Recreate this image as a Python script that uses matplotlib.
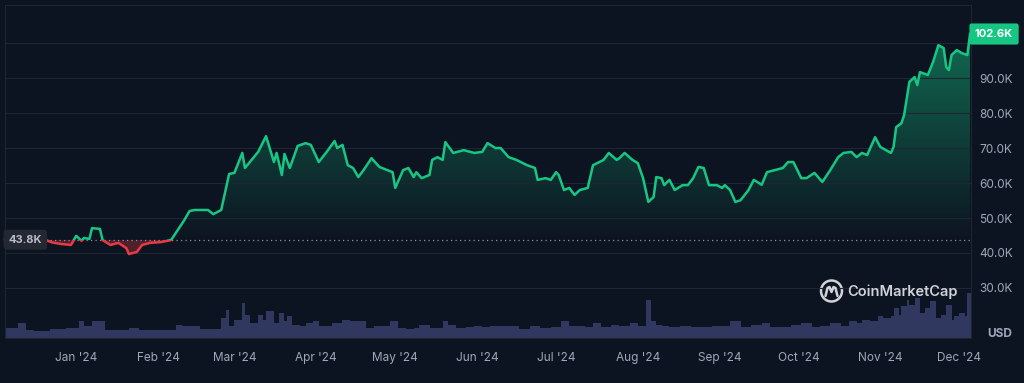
import numpy as np
import matplotlib.pyplot as plt
import matplotlib.dates as mdates
from matplotlib.patches import Rectangle, Ellipse
from matplotlib.colors import LinearSegmentedColormap
from matplotlib.transforms import blended_transform_factory

plt.rcParams['font.family'] = ['Inter', 'DejaVu Sans']

start = np.datetime64('2023-12-05')

# price (days since start, thousands of USD)
price_days = [0, 15, 18, 21, 25, 27, 29, 30, 32, 33,
              36, 37, 40, 43, 46, 47, 50, 52, 55, 59,
              63, 65, 68, 70, 72, 77, 79, 82, 85, 87,
              90, 91, 96, 99, 102, 103, 105, 106, 108, 111,
              114, 116, 119, 122, 125, 126, 128, 130, 132, 134,
              136, 139, 142, 145, 147, 148, 151, 153, 155, 156,
              158, 161, 162, 164, 166, 167, 170, 174, 178, 181,
              183, 186, 188, 191, 194, 198, 201, 202, 205, 207,
              209, 210, 212, 214, 216, 218, 221, 223, 227, 229,
              232, 233, 235, 238, 240, 242, 244, 246, 247, 249,
              250, 252, 254, 257, 259, 261, 263, 265, 267, 270,
              272, 273, 275, 277, 279, 282, 284, 287, 289, 292,
              295, 297, 299, 302, 304, 307, 310, 313, 316, 318,
              321, 323, 325, 327, 330, 332, 336, 337, 338, 340,
              341, 343, 345, 346, 347, 350, 352, 354, 356, 357,
              358, 359, 361, 363, 365, 366]
price_k = [43.8, 43.8, 43.0, 42.6, 42.3, 44.9, 43.5, 44.3, 44.0, 47.1,
           46.9, 43.7, 42.3, 42.9, 41.4, 39.7, 40.3, 42.3, 42.9, 43.1,
           43.7, 46.0, 49.4, 52.0, 52.3, 52.3, 51.1, 52.3, 62.6, 62.9,
           68.6, 64.3, 68.9, 73.4, 66.0, 68.6, 62.3, 68.3, 64.3, 70.6,
           71.4, 70.9, 66.0, 68.9, 72.0, 70.0, 70.9, 65.1, 64.3, 61.7,
           63.7, 67.1, 64.6, 63.7, 63.1, 58.6, 63.7, 64.3, 61.7, 63.1,
           61.4, 62.3, 66.6, 67.4, 66.6, 71.7, 68.6, 69.4, 68.6, 68.9,
           71.4, 70.0, 70.0, 67.4, 66.6, 65.1, 64.3, 60.9, 61.4, 60.9,
           63.1, 62.3, 58.0, 58.6, 56.6, 58.0, 58.6, 65.1, 66.6, 68.6,
           66.6, 67.1, 68.6, 66.6, 65.7, 61.4, 54.6, 56.0, 61.7, 61.4,
           59.4, 60.9, 58.0, 59.4, 59.4, 61.4, 64.6, 64.3, 59.4, 59.4,
           58.6, 59.4, 58.0, 54.6, 55.1, 58.0, 60.9, 59.5, 63.1, 63.7,
           64.3, 66.0, 66.0, 61.4, 61.4, 62.9, 60.3, 63.7, 67.4, 68.6,
           68.9, 67.4, 68.6, 68.0, 73.1, 70.3, 68.6, 70.3, 76.0, 77.1,
           79.4, 88.9, 90.3, 88.0, 91.7, 90.9, 94.6, 99.4, 98.6, 93.1,
           92.3, 96.6, 98.0, 97.1, 96.6, 102.6]

# volume (days since start, billions of USD)
vol_days = [0, 3, 5, 8, 11, 14, 17, 20, 23, 25,
            28, 30, 33, 35, 38, 41, 44, 47, 51, 55,
            59, 62, 65, 67, 70, 74, 77, 80, 82, 84,
            85, 87, 90, 91, 93, 96, 98, 99, 102, 104,
            106, 107, 109, 112, 114, 117, 119, 121, 124, 128,
            131, 134, 137, 140, 142, 146, 149, 152, 155, 157,
            161, 163, 166, 168, 171, 175, 178, 181, 184, 188,
            192, 195, 199, 203, 207, 211, 214, 216, 220, 223,
            226, 230, 233, 237, 240, 243, 245, 247, 249, 252,
            256, 260, 264, 268, 271, 275, 279, 283, 287, 290,
            294, 298, 302, 306, 309, 313, 317, 320, 323, 325,
            328, 331, 333, 336, 337, 339, 340, 342, 343, 345,
            347, 349, 351, 353, 355, 357, 359, 360, 362, 364,
            365]
vol_bn = [30, 30, 45, 24, 21, 21, 27, 27, 30, 30,
          51, 36, 51, 51, 24, 24, 24, 30, 24, 24,
          24, 24, 39, 36, 36, 27, 27, 27, 60, 84,
          36, 54, 105, 69, 45, 69, 54, 81, 45, 75,
          51, 66, 39, 36, 45, 51, 36, 36, 45, 54,
          51, 51, 30, 36, 36, 51, 30, 27, 30, 39,
          30, 30, 51, 39, 30, 33, 36, 33, 36, 36,
          36, 27, 36, 30, 33, 51, 36, 36, 33, 45,
          33, 39, 36, 45, 36, 114, 51, 39, 36, 33,
          36, 33, 33, 36, 36, 51, 33, 39, 45, 33,
          33, 39, 45, 33, 36, 45, 36, 51, 45, 54,
          51, 66, 60, 66, 90, 69, 96, 114, 99, 120,
          75, 90, 111, 60, 69, 99, 54, 66, 75, 66,
          135]

base_k = 43.8
last_label = '102.6K'
month_ticks = ['2024-01-01', '2024-02-01', '2024-03-01', '2024-04-01', '2024-05-01', '2024-06-01',
               '2024-07-01', '2024-08-01', '2024-09-01', '2024-10-01', '2024-11-01', '2024-12-01']
month_labels = ["Jan '24", "Feb '24", "Mar '24", "Apr '24", "May '24", "Jun '24",
                "Jul '24", "Aug '24", "Sep '24", "Oct '24", "Nov '24", "Dec '24"]
y_ticks = [30, 40, 50, 60, 70, 80, 90, 100]
y_labels = ['30.0K', '40.0K', '50.0K', '60.0K', '70.0K', '80.0K', '90.0K', '']

bg = '#0d1421'
green = '#16c784'
red = '#ea3943'
grid_c = '#1e2533'
text_c = '#a1a7bb'

t0 = mdates.date2num(start)
x = t0 + np.array(price_days)
p = np.array(price_k)
vx = t0 + np.array(vol_days)
xlim = (t0, t0 + 366.4)

fig = plt.figure(figsize=(10.24, 3.83), dpi=100, facecolor=bg)
rect = [0.0049, 0.1175, 0.9434, 0.8695]

vax = fig.add_axes(rect, facecolor=bg)
widths = np.diff(np.append(vx, vx[-1] + 1.4))
vax.bar(vx, vol_bn, width=widths, align='edge', color='#30385f', lw=0)
vax.set_xlim(xlim)
vax.set_ylim(0, 999)
vax.axis('off')

ax = fig.add_axes(rect)
ax.patch.set_alpha(0)
ax.set_zorder(1)

# gradient area above the start price
cmap = LinearSegmentedColormap.from_list('g', [(0.086, 0.78, 0.518, 0.0), (0.086, 0.78, 0.518, 0.5)])
grad = np.linspace(0, 1, 256).reshape(-1, 1)
im = ax.imshow(grad, extent=[xlim[0], xlim[1], base_k, 104], origin='lower',
               aspect='auto', cmap=cmap, zorder=1)
up_poly = ax.fill_between(x, np.maximum(p, base_k), base_k, color='none', lw=0)
im.set_clip_path(up_poly.get_paths()[0], transform=ax.transData)
ax.fill_between(x, np.minimum(p, base_k), base_k, color=red, alpha=0.3, lw=0, zorder=1)

g_line, = ax.plot(x, p, color=green, lw=1.8, zorder=3, solid_joinstyle='round')
r_line, = ax.plot(x, p, color=red, lw=1.8, zorder=3, solid_joinstyle='round')
g_line.set_clip_path(Rectangle((xlim[0] - 5, base_k), 400, 100, transform=ax.transData))
r_line.set_clip_path(Rectangle((xlim[0] - 5, 0), 400, base_k, transform=ax.transData))

ax.axhline(base_k, color='#8a90a0', lw=0.9, ls=(0, (1, 2.6)), zorder=2)

ax.set_xlim(xlim)
ax.set_ylim(15.7, 110.9)
ax.set_yticks(y_ticks, y_labels)
ax.yaxis.tick_right()
ax.set_xticks(mdates.datestr2num(month_ticks), month_labels)
ax.grid(axis='y', color=grid_c, lw=0.8)
ax.grid(axis='x', visible=False)
ax.tick_params(axis='y', length=0, pad=6, labelcolor=text_c, labelsize=8.5)
ax.tick_params(axis='x', length=0, pad=10, labelcolor=text_c, labelsize=8.5)
for s in ax.spines.values():
    s.set_color(grid_c)
    s.set_linewidth(0.8)

# price labels
trans = blended_transform_factory(ax.transAxes, ax.transData)
ax.text(0.021, base_k, '43.8K', transform=trans, ha='center', va='center', fontsize=8,
        color='#b8bcc8', fontweight='bold', zorder=6,
        bbox=dict(boxstyle='round,pad=0.45,rounding_size=0.3', fc='#232833', ec='none'))
ax.text(1.0238, price_k[-1], last_label, transform=trans, ha='center', va='center', fontsize=8,
        color='white', fontweight='bold', zorder=6, clip_on=False,
        bbox=dict(boxstyle='round,pad=0.5,rounding_size=0.2', fc=green, ec='none'))

fig.text(1000 / 1024, 1 - 334 / 383, 'USD', ha='center', va='center', fontsize=8.5,
         color=text_c, fontweight='bold')

# watermark
fig.text(903 / 1024, 1 - 292 / 383, 'CoinMarketCap', ha='center', va='center',
         fontsize=10.5, color='#e6e8ec', fontweight='semibold', alpha=0.9)
cx, cy = 831.5 / 1024, 1 - 291 / 383
fig.add_artist(Ellipse((cx, cy), 21 / 1024, 21 / 383, transform=fig.transFigure,
                       fill=False, ec='#e6e8ec', lw=1.8, alpha=0.9))
wave = np.array([[-6, -5], [-4, 3], [-2, 4], [0, -1], [2, 4], [4, 3], [6, -5]])
fig.add_artist(plt.Line2D(cx + wave[:, 0] / 1024, cy + wave[:, 1] / 383, transform=fig.transFigure,
                          color='#e6e8ec', lw=1.8, alpha=0.9, solid_capstyle='round'))

fig.savefig('out.png', dpi=100, facecolor=bg)
